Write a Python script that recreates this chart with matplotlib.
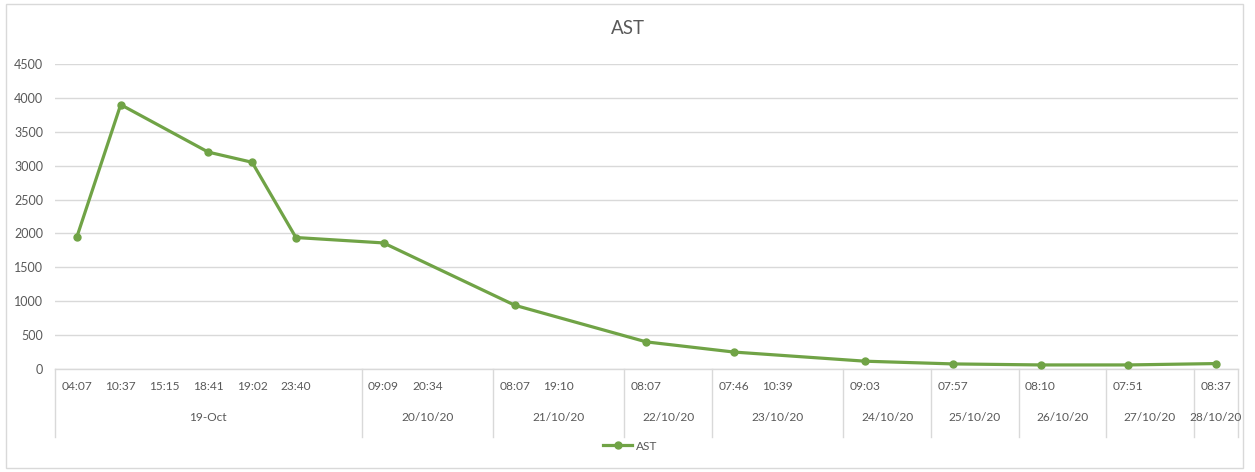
import numpy as np
import matplotlib
matplotlib.use("Agg")
import matplotlib.pyplot as plt
import matplotlib.transforms as mtransforms
from matplotlib.patches import Rectangle
from matplotlib.lines import Line2D

plt.rcParams['font.family'] = ['Lato', 'DejaVu Sans']

# Sample times (inner axis level); empty strings are unlabeled slots
times = ['04:07', '10:37', '15:15', '18:41', '19:02', '23:40', '',
         '09:09', '20:34', '',
         '08:07', '19:10', '',
         '08:07', '',
         '07:46', '10:39', '',
         '09:03', '',
         '07:57', '',
         '08:10', '',
         '07:51', '',
         '08:37']

# Dates (outer axis level) and how many slots each covers
dates = ['19-Oct', '20/10/20', '21/10/20', '22/10/20', '23/10/20',
         '24/10/20', '25/10/20', '26/10/20', '27/10/20', '28/10/20']
date_spans = [7, 3, 3, 2, 3, 2, 2, 2, 2, 1]

nan = np.nan
ast = [1950, 3900, nan, 3200, 3050, 1940, nan,
       1860, nan, nan,
       940, nan, nan,
       400, nan,
       250, nan, nan,
       115, nan,
       75, nan,
       60, nan,
       60, nan,
       80]

y_ticks = list(range(0, 4501, 500))

TEXT = '#595959'
GRID = '#d9d9d9'
GREEN = '#70a346'

W, H = 1255, 472
fig = plt.figure(figsize=(W / 100, H / 100), dpi=100)
fig.patch.set_facecolor('white')

# chart frame
fig.add_artist(Rectangle((6 / W, 4 / H), (1243 - 6) / W, (468 - 4) / H,
                         transform=fig.transFigure, fill=False,
                         edgecolor=GRID, linewidth=1.0))

ax = fig.add_axes([55 / W, (H - 369) / H, (1237.6 - 55) / W, (369 - 64) / H])

n = len(times)
x = np.arange(n)
y = np.array(ast, dtype=float)
valid = ~np.isnan(y)
ax.plot(x[valid], y[valid], color=GREEN, linewidth=2.3, marker='o',
        markersize=5, markerfacecolor=GREEN, markeredgecolor=GREEN,
        solid_joinstyle='round', label='AST', zorder=3)

ax.set_xlim(-0.5, n - 0.5)
ax.set_ylim(y_ticks[0], y_ticks[-1])
ax.set_yticks(y_ticks)
ax.set_yticklabels([str(v) for v in y_ticks])
ax.tick_params(axis='y', length=0, pad=8.5, labelsize=9, labelcolor=TEXT)
ax.set_xticks([])
ax.grid(axis='y', color=GRID, linewidth=1.0)
ax.set_axisbelow(True)
for side in ['left', 'right', 'top']:
    ax.spines[side].set_visible(False)
ax.spines['bottom'].set_color(GRID)
ax.spines['bottom'].set_linewidth(1.0)

trans = mtransforms.blended_transform_factory(ax.transData, ax.transAxes)

# inner level labels
for i, t in enumerate(times):
    if t:
        ax.text(i, -0.056, t, transform=trans, ha='center', va='center',
                fontsize=8.6, color=TEXT)

# outer level labels and separators
bounds = np.concatenate([[0], np.cumsum(date_spans)]) - 0.5
for k, d in enumerate(dates):
    centre = (bounds[k] + bounds[k + 1]) / 2
    ax.text(centre, -0.158, d, transform=trans, ha='center', va='center',
            fontsize=8.6, color=TEXT)
for b in bounds:
    ax.add_line(Line2D([b, b], [0, -0.223], transform=trans, color=GRID,
                       linewidth=1.0, clip_on=False))

fig.text(628 / W, 1 - 29 / H, 'AST', ha='center', va='center',
         fontsize=13.5, color=TEXT)

leg = ax.legend(loc='center', bbox_to_anchor=(630 / W, 1 - 446 / H),
                bbox_transform=fig.transFigure, frameon=False,
                handlelength=2.5, handletextpad=0.3, fontsize=8.6)
for txt in leg.get_texts():
    txt.set_color(TEXT)

fig.savefig('out.png', dpi=100, facecolor='white')
